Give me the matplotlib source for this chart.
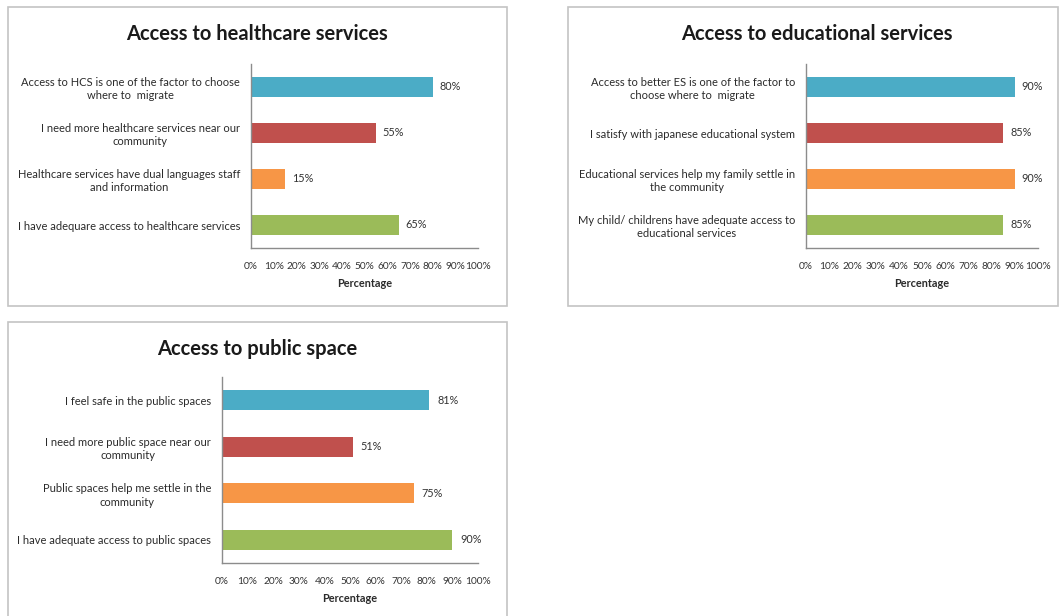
#!/usr/bin/env python3
"""Three survey panels: access to healthcare, education and public space."""
import matplotlib
matplotlib.use("Agg")
import matplotlib.pyplot as plt
from matplotlib.patches import Rectangle

plt.rcParams["font.family"] = ["Lato", "DejaVu Sans"]

COLORS = ["#4bacc6", "#c0504d", "#f79646", "#9bbb59"]
TICKS = [i / 10 for i in range(11)]
TICK_LABELS = [f"{i * 10}%" for i in range(11)]

HC_TITLE = "Access to healthcare services"
HC_LABELS = ["Access to HCS is one of the factor to choose\nwhere to  migrate",
             "I need more healthcare services near our\ncommunity",
             "Healthcare services have dual languages staff\nand information",
             "I have adequare access to healthcare services"]
HC_VALUES = [0.80, 0.55, 0.15, 0.65]

ED_TITLE = "Access to educational services"
ED_LABELS = ["Access to better ES is one of the factor to\nchoose where to  migrate",
             "I satisfy with japanese educational system",
             "Educational services help my family settle in\nthe community",
             "My child/ childrens have adequate access to\neducational services"]
ED_VALUES = [0.90, 0.85, 0.90, 0.85]

PS_TITLE = "Access to public space"
PS_LABELS = ["I feel safe in the public spaces",
             "I need more public space near our\ncommunity",
             "Public spaces help me settle in the\ncommunity",
             "I have adequate access to public spaces"]
PS_VALUES = [0.81, 0.51, 0.75, 0.90]

W, H = 1061, 616


def px_axes(fig, x0, y0, x1, y1):
    """Add axes given pixel box (top-left origin)."""
    return fig.add_axes([x0 / W, 1 - y1 / H, (x1 - x0) / W, (y1 - y0) / H])


def panel(fig, box, ax_box, title, title_xy, labels, values):
    x0, y0, x1, y1 = box
    fig.patches.append(Rectangle((x0 / W, 1 - y1 / H), (x1 - x0) / W, (y1 - y0) / H,
                                 transform=fig.transFigure, fill=False,
                                 edgecolor="#c4c4c4", linewidth=1.2))
    fig.text(title_xy[0] / W, 1 - title_xy[1] / H, title, ha="center", va="center",
             fontsize=14.5, fontweight="bold", color="#1a1a1a")
    ax = px_axes(fig, *ax_box)
    y = list(range(len(values)))
    ax.barh(y, values, height=0.42, color=COLORS)
    for yi, v in zip(y, values):
        ax.text(v + 0.03, yi, f"{round(v * 100)}%", va="center", ha="left",
                fontsize=7.8, color="#333333")
    ax.set_ylim(len(values) - 0.5, -0.5)
    ax.set_xlim(0, 1)
    ax.set_yticks(y)
    ax.set_yticklabels(labels, fontsize=8, color="#2b2b2b", linespacing=1.25,
                       multialignment="center")
    ax.set_xticks(TICKS)
    ax.set_xticklabels(TICK_LABELS, fontsize=7.3, color="#333333")
    ax.tick_params(length=0)
    ax.tick_params(axis="x", pad=10)
    ax.tick_params(axis="y", pad=8)
    ax.set_xlabel("Percentage", fontsize=7.8, fontweight="bold", color="#2b2b2b",
                  labelpad=5)
    for s in ("top", "right"):
        ax.spines[s].set_visible(False)
    for s in ("left", "bottom"):
        ax.spines[s].set_color("#8c8c8c")
        ax.spines[s].set_linewidth(1.0)
    return ax


fig = plt.figure(figsize=(W / 100, H / 100), dpi=100)
panel(fig, (8, 7, 507, 306), (251, 64, 478, 248), HC_TITLE, (257, 34),
      HC_LABELS, HC_VALUES)
panel(fig, (568, 7, 1058, 306), (806, 64, 1038, 248), ED_TITLE, (817, 34),
      ED_LABELS, ED_VALUES)
panel(fig, (8, 322, 507, 630), (222, 377, 478, 563), PS_TITLE, (257, 349),
      PS_LABELS, PS_VALUES)
fig.savefig("out.png", dpi=100)
